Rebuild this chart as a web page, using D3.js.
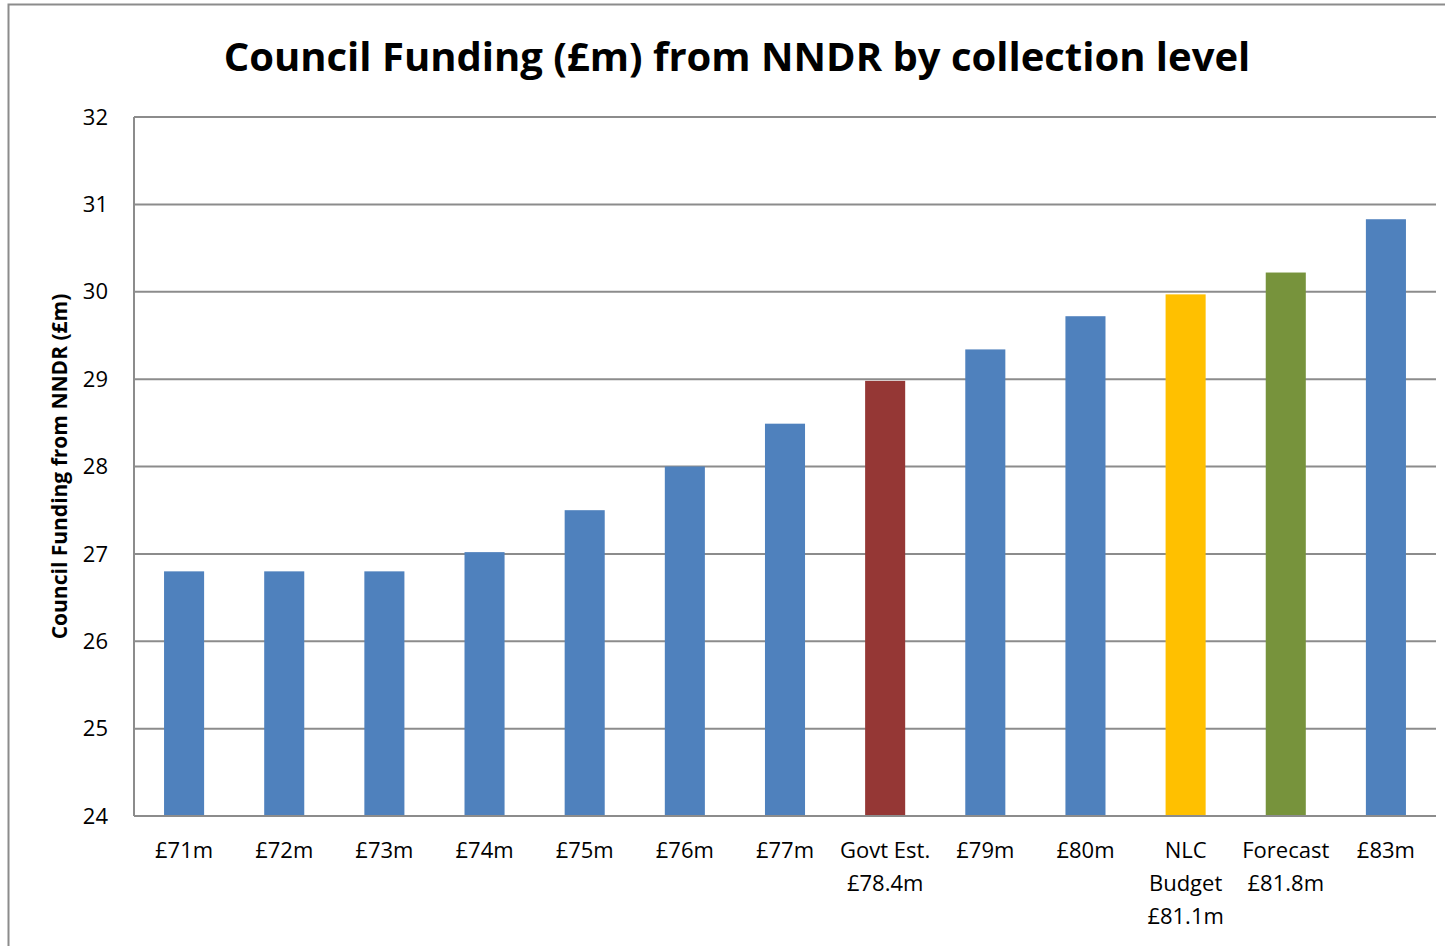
<!DOCTYPE html>
<html>
<head>
<meta charset="utf-8">
<script src="https://cdn.jsdelivr.net/npm/d3@7"></script>
<style>
  body { margin: 0; background: #fff; }
  svg { display: block; font-family: "Open Sans", "Noto Sans", sans-serif; }
</style>
</head>
<body>
<script>
const categories = [
  ["£71m"], ["£72m"], ["£73m"], ["£74m"], ["£75m"], ["£76m"], ["£77m"],
  ["Govt Est.", "£78.4m"], ["£79m"], ["£80m"], ["NLC", "Budget", "£81.1m"],
  ["Forecast", "£81.8m"], ["£83m"]
];
const values = [26.8, 26.8, 26.8, 27.02, 27.5, 28.0, 28.49, 28.98, 29.34, 29.72, 29.97, 30.22, 30.83];
const barColors = ["#4F81BD", "#4F81BD", "#4F81BD", "#4F81BD", "#4F81BD", "#4F81BD", "#4F81BD",
  "#953735", "#4F81BD", "#4F81BD", "#FFC000", "#77933C", "#4F81BD"];
const yTicks = [24, 25, 26, 27, 28, 29, 30, 31, 32];

var width = 1445, height = 946;
var margin = { top: 117, right: 9, bottom: 130, left: 134 };

var svg = d3.select("body").append("svg")
    .attr("width", width)
    .attr("height", height);

// outer chart frame
svg.append("rect")
    .attr("x", 8.5).attr("y", 4.5)
    .attr("width", width).attr("height", height)
    .style("fill", "none").style("stroke", "#8c8c8c").style("stroke-width", 2);

svg.append("text")
    .attr("x", 737).attr("y", 71)
    .attr("text-anchor", "middle")
    .style("font-size", "40px").style("font-weight", "bold")
    .text("Council Funding (£m) from NNDR by collection level");

var x = d3.scaleBand()
    .domain(d3.range(categories.length))
    .range([margin.left, width - margin.right])
    .paddingInner(0.6).paddingOuter(0.3);

var y = d3.scaleLinear()
    .domain([24, 32])
    .range([height - margin.bottom, margin.top]);

// gridlines
svg.append("g").selectAll("line")
    .data(yTicks.slice(1))
    .enter().append("line")
    .attr("x1", margin.left).attr("x2", width - margin.right)
    .attr("y1", d => y(d)).attr("y2", d => y(d))
    .style("stroke", "#8c8c8c").style("stroke-width", 2);

svg.append("g").selectAll("rect")
    .data(values)
    .enter().append("rect")
    .attr("x", (d, i) => x(i))
    .attr("width", x.bandwidth())
    .attr("y", d => y(d))
    .attr("height", d => y(24) - y(d))
    .style("fill", (d, i) => barColors[i]);

// axis lines
svg.append("line")
    .attr("x1", margin.left).attr("x2", margin.left)
    .attr("y1", y(32)).attr("y2", y(24))
    .style("stroke", "#8c8c8c").style("stroke-width", 2);
svg.append("line")
    .attr("x1", margin.left).attr("x2", width - margin.right)
    .attr("y1", y(24)).attr("y2", y(24))
    .style("stroke", "#8c8c8c").style("stroke-width", 2);

svg.append("g").selectAll("text")
    .data(yTicks)
    .enter().append("text")
    .attr("x", 108).attr("y", d => y(d))
    .attr("dy", "0.35em")
    .attr("text-anchor", "end")
    .style("font-size", "22px")
    .text(d => d);

var xl = svg.append("g").selectAll("text")
    .data(categories)
    .enter().append("text")
    .attr("text-anchor", "middle")
    .style("font-size", "22px");
xl.selectAll("tspan")
    .data((d, i) => d.map(s => ({ s: s, i: i })))
    .enter().append("tspan")
    .attr("x", d => x(d.i) + x.bandwidth() / 2)
    .attr("y", (d, j) => 858 + j * 33)
    .text(d => d.s);

svg.append("text")
    .attr("transform", "translate(67," + (y(28)) + ") rotate(-90)")
    .attr("text-anchor", "middle")
    .style("font-size", "21px").style("font-weight", "bold")
    .text("Council Funding from NNDR (£m)");
</script>
</body>
</html>
